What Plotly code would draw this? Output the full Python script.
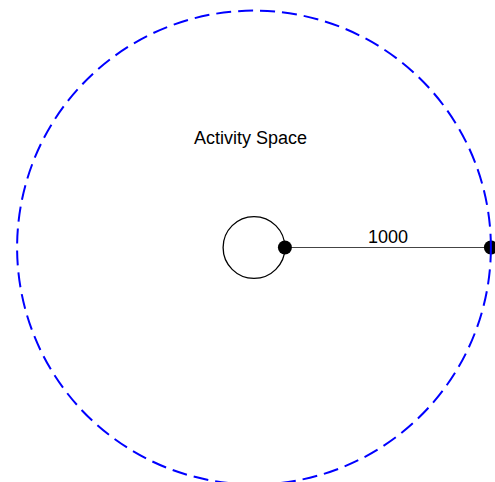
import plotly.graph_objects as go

# Data
center = [0, 0]
home_radius = 150
space_distance = 1000
space_radius = home_radius + space_distance
region_label = "Activity Space"
distance_label = "1000"

W, H = 495, 482
scale = 0.206  # px per unit
cx_px, cy_px = 254, 247.5
x_range = [-cx_px / scale, (W - cx_px) / scale]
y_range = [-(H - cy_px) / scale, cy_px / scale]

fig = go.Figure()

# Big dashed circle (activity space)
fig.add_shape(type="circle", xref="x", yref="y",
              x0=center[0] - space_radius, x1=center[0] + space_radius,
              y0=center[1] - space_radius, y1=center[1] + space_radius,
              line=dict(color="#0000FF", width=2, dash="15px,7px"))
# Small circle (home)
fig.add_shape(type="circle", xref="x", yref="y",
              x0=center[0] - home_radius, x1=center[0] + home_radius,
              y0=center[1] - home_radius, y1=center[1] + home_radius,
              line=dict(color="black", width=1.3))

# Distance line with end dots
fig.add_trace(go.Scatter(
    x=[center[0] + home_radius, center[0] + space_radius],
    y=[center[1], center[1]],
    mode="lines+markers",
    line=dict(color="#444444", width=1),
    marker=dict(color="black", size=14),
    hoverinfo="skip", showlegend=False, cliponaxis=False))

fig.add_annotation(x=center[0] + home_radius + space_distance / 2, y=center[1],
                   text=distance_label, showarrow=False, yshift=11,
                   font=dict(family="Liberation Sans, Arial", size=18, color="black"))
fig.add_annotation(x=center[0] - 15, y=center[1] + 531,
                   text=region_label, showarrow=False,
                   font=dict(family="Liberation Sans, Arial", size=18, color="black"))

fig.update_layout(
    width=W, height=H,
    margin=dict(l=0, r=0, t=0, b=0),
    plot_bgcolor="white", paper_bgcolor="white",
    xaxis=dict(range=x_range, visible=False, fixedrange=True),
    yaxis=dict(range=y_range, visible=False, fixedrange=True),
)

fig.write_html("out.html",
               config={"displayModeBar": False, "staticPlot": True},
               post_script="document.body.style.margin='0';document.body.style.overflow='hidden';")
